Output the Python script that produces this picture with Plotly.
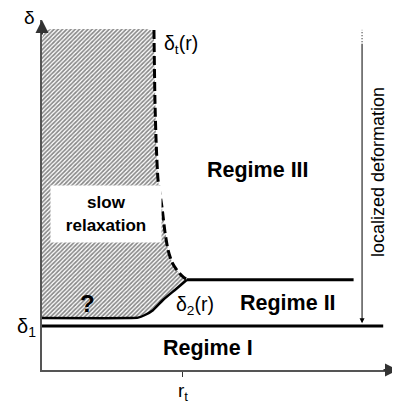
import plotly.graph_objects as go

# ---- schematic data (r in units of r_t, delta in units of delta_1) ----
r_t = 1.0
delta_1 = 1.0
delta_2_plateau = 2.05

# dashed boundary delta_t(r), from top down to the junction
dt_r = [0.794, 0.801, 0.809, 0.823, 0.851, 0.872, 0.894, 0.922, 0.957, 0.993, 1.028]
dt_d = [7.73, 6.14, 5.23, 4.32, 3.70, 3.14, 2.73, 2.45, 2.27, 2.14, 2.05]

# solid boundary delta_2(r), from the junction back to the delta axis
d2_r = [1.028, 0.943, 0.858, 0.787, 0.730, 0.681, 0.624, 0.0]
d2_d = [2.05, 1.82, 1.59, 1.36, 1.25, 1.19, 1.18, 1.18]

# plateau of delta_2 and the delta_1 line
plateau_r = [1.028, 2.21]
delta1_r = [0.0, 2.42]

# rounded top of the slow-relaxation region
top_r = [0.0, 0.0, 0.02, 0.06, 0.74, 0.775, 0.794]
top_d = [1.18, 7.55, 7.70, 7.75, 7.75, 7.72, 7.65]

# localized deformation arrow
arrow_r = 2.27
arrow_top = 7.45
arrow_dot_top = 7.73

x_max = 2.525
y_max = 7.955

FONT = "Arial, Liberation Sans, sans-serif"

fig = go.Figure()

# hatched region
hatch_r = top_r + dt_r[1:] + d2_r[1:]
hatch_d = top_d + dt_d[1:] + d2_d[1:]
fig.add_trace(go.Scatter(
    x=hatch_r, y=hatch_d, mode="lines", fill="toself",
    line=dict(width=0, color="rgba(0,0,0,0)"),
    fillcolor="white",
    fillpattern=dict(shape="/", fgcolor="#111111", bgcolor="white", size=3, solidity=0.55),
    hoverinfo="skip"))

# delta_1 line
fig.add_trace(go.Scatter(x=delta1_r, y=[delta_1, delta_1], mode="lines",
                         line=dict(color="black", width=3), hoverinfo="skip"))
# delta_2 plateau
fig.add_trace(go.Scatter(x=plateau_r, y=[delta_2_plateau, delta_2_plateau], mode="lines",
                         line=dict(color="black", width=3), hoverinfo="skip"))
# delta_2(r) curve
fig.add_trace(go.Scatter(x=d2_r, y=d2_d, mode="lines",
                         line=dict(color="black", width=2.5, shape="spline", smoothing=0.6),
                         hoverinfo="skip"))
# delta_t(r) dashed curve
fig.add_trace(go.Scatter(x=dt_r, y=dt_d, mode="lines",
                         line=dict(color="black", width=3, dash="9px,4px", shape="spline", smoothing=0.6),
                         hoverinfo="skip"))
# dotted top of the vertical arrow
fig.add_trace(go.Scatter(x=[arrow_r, arrow_r], y=[arrow_top, arrow_dot_top], mode="lines",
                         line=dict(color="black", width=1, dash="1px,2px"), hoverinfo="skip"))

ann = []
# axis arrowheads
ann.append(dict(x=x_max, y=0, xref="x", yref="y", ax=-16, ay=0, text="", showarrow=True,
                arrowhead=2, arrowsize=1.3, arrowwidth=2, arrowcolor="#333"))
ann.append(dict(x=0, y=y_max, xref="x", yref="y", ax=0, ay=16, text="", showarrow=True,
                arrowhead=2, arrowsize=1.3, arrowwidth=2, arrowcolor="#333"))
# vertical localized-deformation arrow
ann.append(dict(x=arrow_r, y=delta_1 + 0.06, xref="x", yref="y", axref="x", ayref="y",
                ax=arrow_r, ay=arrow_top, text="", showarrow=True,
                arrowhead=2, arrowsize=1, arrowwidth=1, arrowcolor="black"))

def txt(x, y, s, size=18, bold=False, xref="x", yref="y", **kw):
    d = dict(x=x, y=y, xref=xref, yref=yref, text=(f"<b>{s}</b>" if bold else s), showarrow=False,
             xanchor="center", yanchor="middle",
             font=dict(family=FONT, size=size, color="black"))
    d.update(kw)
    ann.append(d)

# axis end labels (outside the data range, so placed in paper units)
txt(-0.034, 0.972, "δ", size=19, xref="paper", yref="paper", yanchor="bottom")
txt(0.984, -0.031, "r", size=18, xref="paper", yref="paper", xanchor="left")

txt(0.986, 7.39, "δ<sub>t</sub>(r)", size=19.5)
txt(1.532, 4.545, "Regime III", size=21.5, bold=True)
txt(0.456, 3.557, "slow<br>relaxation", size=17, bold=True,
    bgcolor="white", width=104, height=50, borderpad=3)
txt(0.326, 1.52, "?", size=24, bold=True)
txt(1.085, 1.455, "δ<sub>2</sub>(r)", size=19.5)
txt(1.745, 1.52, "Regime II", size=21.5, bold=True)
txt(1.177, 0.5, "Regime I", size=21.5, bold=True)
txt(2.383, 4.5, "localized deformation", size=18, textangle=-90)

# the page body adds an 8px offset; the figure is sized so that the plot area
# lands where the reference draws it
fig.update_layout(
    width=392, height=401,
    margin=dict(l=34, r=2, t=12, b=39),
    plot_bgcolor="white", paper_bgcolor="white",
    showlegend=False,
    annotations=ann,
    xaxis=dict(range=[0, x_max], showline=True, linecolor="#555", linewidth=2,
               showgrid=False, zeroline=False, tickvals=[r_t], ticktext=["r<sub>t</sub>"],
               ticks="outside", ticklen=5, tickwidth=1, tickcolor="#333",
               ticklabelstandoff=-3,
               tickfont=dict(family=FONT, size=19, color="black")),
    yaxis=dict(range=[0, y_max], showline=True, linecolor="#555", linewidth=2,
               showgrid=False, zeroline=False, tickvals=[delta_1], ticktext=["δ<sub>1</sub>"],
               ticks="", tickfont=dict(family=FONT, size=20, color="black")),
)

fig.write_html("out.html")
